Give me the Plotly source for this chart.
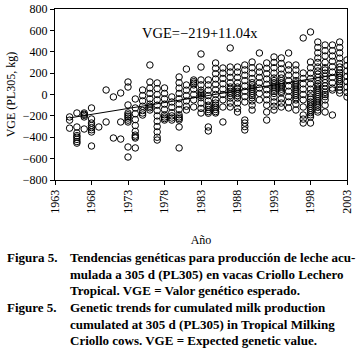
import plotly.graph_objects as go

# ---- data (VGE, kg, per birth year) ----
v1965 = [-210, -240, -315]
v1966 = [-173, -304, -360, -385, -400, -420, -440, -455]
v1967 = [-173, -185, -195, -210, -323]
v1968 = [-126, -229, -267, -290, -310, -330, -351, -482]
v1969 = [-304]
v1970 = [42, -257]
v1971 = [-23, -407]
v1972 = [14, -257, -417]
v1973 = [117, 70, -98, -173, -190, -205, -220, -240, -257, -491, -585]
v1974 = [-42, -126, -180, -235, -290, -345, -380, -395, -407, -500]
v1975 = [42, -10, -60, -110, -150, -173, -192]
v1976 = [276, 117, 60, 10, -40, -90, -110, -125, -145]
v1977 = [108, 55, 0, -50, -100, -150, -200, -250, -300, -350, -400, -426]
v1978 = [61, 10, -40, -90, -140, -190, -210, -225, -239]
v1979 = [-23, -70, -120, -170, -200, -220, -239]
v1980 = [164, 110, 60, 10, -40, -90, -140, -190, -210, -225, -239, -304, -500]
v1981 = [238, 89, 40, -10, -60, -110, -145]
v1982 = [136, 120, 105, 90, 50, 0, -50, -117]
v1983 = [379, 257, 136, 90, 40, 20, 5, -10, -30, -80, -130, -173]
v1984 = [136, 90, 40, -10, -60, -100, -120, -140, -160, -175, -304, -341]
v1985 = [295, 245, 195, 145, 95, 45, 0, -50, -80, -100, -120, -140, -160, -173]
v1986 = [248, 200, 150, 100, 50, 0, -50, -117, -257]
v1987 = [435, 257, 210, 160, 110, 70, 50, 30, 10, -10, -33, -80, -117]
v1988 = [257, 210, 160, 110, 70, 50, 30, 10, -10, -33, -80, -130, -164]
v1989 = [276, 230, 180, 130, 80, 30, -20, -70, -239, -267, -300, -332]
v1990 = [304, 250, 200, 150, 110, 90, 70, 50, 30, 10, -10, -30, -60, -100, -145]
v1991 = [388, 257, 210, 160, 110, 60, 10, -51]
v1992 = [295, 245, 195, 145, 95, 45, 0, -50, -100, -164, -239]
v1993 = [351, 300, 250, 200, 154, 130, 110, 90, 70, 50, 30, 10, -23, -70, -110, -145]
v1994 = [342, 290, 240, 190, 154, 130, 110, 90, 70, 50, 30, 14, -40, -80, -117]
v1995 = [388, 276, 230, 180, 130, 80, 30, -20, -70, -126]
v1996 = [276, 230, 180, 130, 108, 90, 70, 50, 30, 10, -10, -30, -51, -90, -145]
v1997 = [529, 201, 150, 100, 50, 0, -50, -117, -192, -230, -267]
v1998 = [585, 304, 250, 200, 150, 100, 50, 10, -23, -45, -70, -90, -110, -130, -150, -170, -190, -210, -267]
v1999 = [491, 440, 390, 341, 300, 257, 220, 190, 160, 130, 100, 80, 60, 40, 20, 0, -20, -40, -60, -80, -100, -120, -145, -164]
v2000 = [463, 410, 360, 300, 250, 229, 200, 170, 140, 110, 80, 50, 20, 0, -20, -51, -100, -164]
v2001 = [463, 410, 360, 310, 260, 210, 160, 110, 60, 42, -192]
v2002 = [491, 440, 390, 340, 290, 257, 230, 200, 180, 160, 140, 120, 100, 70, 40, 14]
v2003 = [323, 270, 220, 170, 120, 70, 20, -23]

years = list(range(1965, 2004))
columns = [v1965, v1966, v1967, v1968, v1969, v1970, v1971, v1972, v1973, v1974,
           v1975, v1976, v1977, v1978, v1979, v1980, v1981, v1982, v1983, v1984,
           v1985, v1986, v1987, v1988, v1989, v1990, v1991, v1992, v1993, v1994,
           v1995, v1996, v1997, v1998, v1999, v2000, v2001, v2002, v2003]

x_ticks = [1963, 1968, 1973, 1978, 1983, 1988, 1993, 1998, 2003]
y_ticks = [-800, -600, -400, -200, 0, 200, 400, 600, 800]

trend_intercept = -219
trend_slope = 11.04
trend_base_year = 1965
trend_years = [1965, 2002]

xs, ys = [], []
for yr, col in zip(years, columns):
    for v in col:
        xs.append(yr)
        ys.append(v)

trend_y = [trend_intercept + trend_slope * (t - trend_base_year) for t in trend_years]

serif = "Liberation Serif"

fig = go.Figure()
fig.add_trace(go.Scatter(
    x=xs, y=ys, mode="markers",
    marker=dict(symbol="circle-open", size=6.5, color="black",
                line=dict(width=1, color="black")),
    showlegend=False,
))
fig.add_trace(go.Scatter(
    x=trend_years, y=trend_y, mode="lines",
    line=dict(color="black", width=1), showlegend=False,
))

axis_common = dict(
    showgrid=False, zeroline=False, showline=True, linecolor="black",
    linewidth=1, mirror=True, ticks="outside", ticklen=4, tickcolor="black",
    tickfont=dict(family=serif, size=12, color="black"),
)

fig.update_xaxes(range=[1963, 2003], tickvals=x_ticks,
                 ticktext=[str(t) for t in x_ticks], tickangle=-90,
                 title=dict(text="Año", font=dict(family=serif, size=12, color="black"),
                            standoff=22),
                 **axis_common)
fig.update_yaxes(range=[-800, 800], tickvals=y_ticks,
                 ticktext=[("−" + str(-t)) if t < 0 else str(t) for t in y_ticks],
                 title=dict(text="VGE (PL305, kg)",
                            font=dict(family=serif, size=12, color="black"),
                            standoff=4),
                 **axis_common)

fig.add_annotation(x=1974.6, y=575, xref="x", yref="y", xanchor="left",
                   yanchor="middle", showarrow=False,
                   text="VGE=−219+11.04x",
                   font=dict(family=serif, size=14.5, color="black"))

W, H = 360, 348
L, R, T, B = 55, 13, 9, 168
PW, PH = W - L - R, H - T - B


def px_x(x):
    return (x - L) / PW


def px_y(y):
    return (H - B - y) / PH


cap_font = dict(family=serif, size=13, color="black")
label_lines = [(257, "Figura 5."), (307, "Figure 5.")]
body_lines = [
    (257, "Tendencias genéticas para producción de leche acu-"),
    (274, "mulada a 305 d (PL305) en vacas Criollo Lechero"),
    (290, "Tropical. VGE = Valor genético esperado."),
    (307, "Genetic trends for cumulated milk production"),
    (324, "cumulated at 305 d (PL305) in Tropical Milking"),
    (340, "Criollo cows. VGE = Expected genetic value."),
]
for ypx, txt in label_lines:
    fig.add_annotation(x=px_x(5), y=px_y(ypx), xref="paper", yref="paper",
                       xanchor="left", yanchor="middle", showarrow=False,
                       text="<b>" + txt + "</b>", font=cap_font)
for ypx, txt in body_lines:
    fig.add_annotation(x=px_x(68), y=px_y(ypx), xref="paper", yref="paper",
                       xanchor="left", yanchor="middle", showarrow=False,
                       text="<b>" + txt + "</b>", font=cap_font)

fig.update_layout(
    width=W, height=H,
    margin=dict(l=L, r=R, t=T, b=B, autoexpand=False),
    paper_bgcolor="white", plot_bgcolor="white",
    font=dict(family=serif, color="black"),
)

fig.write_html("out.html", config={"displayModeBar": False},
               post_script="document.body.style.margin='0px';document.body.style.overflow='hidden';")
